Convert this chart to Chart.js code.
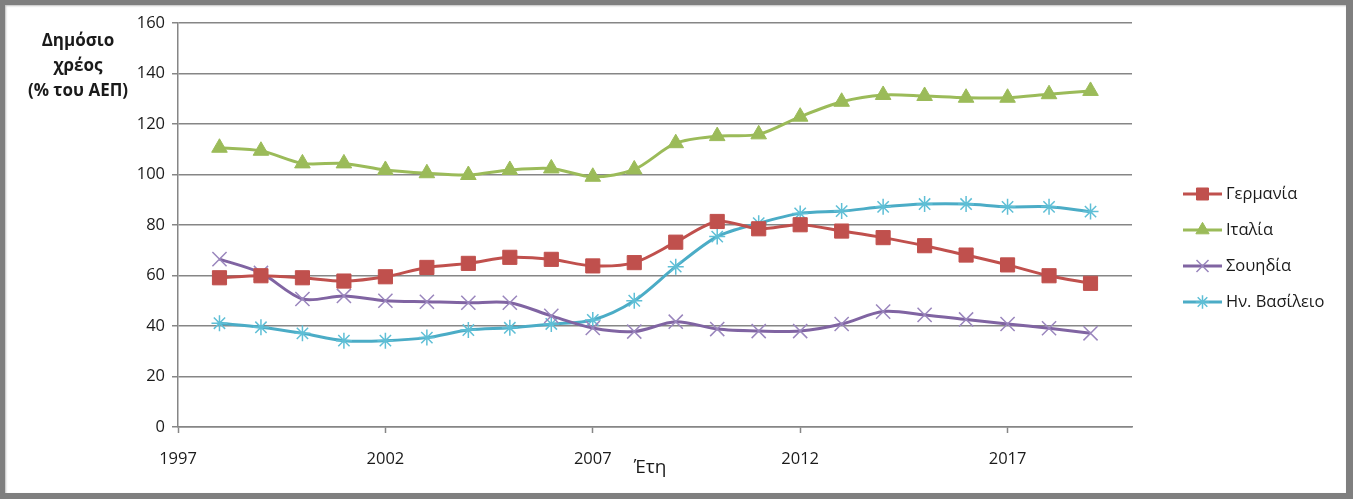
<!DOCTYPE html>
<html>
<head>
<meta charset="utf-8">
<script src="https://cdn.jsdelivr.net/npm/chart.js@4.4.1/dist/chart.umd.min.js"></script>
<style>
  html, body { margin: 0; padding: 0; background: #fff; }
  #wrap { position: absolute; left: 0; top: 0; width: 1353px; height: 499px; }
  #frame { position: absolute; left: 0; top: 0; width: 1353px; height: 499px; box-sizing: border-box;
           border-style: solid; border-color: #7f7f7f; border-width: 5px 7px 6px 5px;
           box-shadow: inset 1px 1px 2px rgba(0,0,0,0.25); pointer-events: none; }
  .lbl { position: absolute; font-family: "Open Sans", "DejaVu Sans", sans-serif; color: #1a1a1a; }
  #ytitle { left: 0; top: 27px; width: 156px; text-align: center; font-weight: bold; font-size: 17px; line-height: 25px; }
  #xtitle { left: 615px; top: 453px; width: 70px; text-align: center; font-size: 19px; }
</style>
</head>
<body>
<div id="wrap">
  <canvas id="c" width="1353" height="499"></canvas>
  <div class="lbl" id="ytitle">Δημόσιο<br>χρέος<br>(% του ΑΕΠ)</div>
  <div class="lbl" id="xtitle">Έτη</div>
  <div id="frame"></div>
</div>
<script>
  // δεδομένα
  const years = [1998, 1999, 2000, 2001, 2002, 2003, 2004, 2005, 2006, 2007, 2008,
                 2009, 2010, 2011, 2012, 2013, 2014, 2015, 2016, 2017, 2018, 2019];
  const germany = [59.1, 59.9, 59.1, 57.8, 59.5, 63.2, 64.8, 67.2, 66.4, 63.8, 65.1,
                   73.2, 81.4, 78.5, 80.1, 77.6, 75.0, 71.8, 68.1, 64.2, 59.9, 56.9];
  const italy = [110.6, 109.4, 104.4, 104.4, 101.8, 100.5, 99.8, 101.8, 102.4, 99.1, 102.0,
                 112.4, 115.2, 115.9, 122.9, 128.8, 131.5, 131.1, 130.4, 130.4, 131.8, 133.1];
  const sweden = [66.5, 61.0, 50.7, 51.9, 50.0, 49.6, 49.2, 49.2, 44.0, 39.2, 37.8,
                  41.7, 38.8, 38.0, 38.0, 40.8, 45.7, 44.4, 42.6, 40.8, 39.1, 37.1];
  const uk = [41.1, 39.5, 37.1, 34.2, 34.2, 35.4, 38.4, 39.3, 40.8, 42.4, 50.0,
              63.5, 75.4, 80.7, 84.6, 85.5, 87.2, 88.3, 88.3, 87.2, 87.2, 85.3];
  const seriesNames = ['Γερμανία', 'Ιταλία', 'Σουηδία', 'Ην. Βασίλειο'];
  const xTickLabels = [1997, 2002, 2007, 2012, 2017];
  const yTicks = [0, 20, 40, 60, 80, 100, 120, 140, 160];

  const FONT = '"Open Sans", "DejaVu Sans", sans-serif';
  const GRID = '#868686';

  function pts(vals){ return years.map((y, i) => ({ x: y, y: vals[i] })); }

  function ds(label, vals, color, mark, style){
    return Object.assign({
      label, data: pts(vals),
      borderColor: color, backgroundColor: color,
      borderWidth: 3, tension: 0.3,
      pointStyle: mark, pointBackgroundColor: color, pointBorderColor: color
    }, style);
  }

  const datasets = [
    ds(seriesNames[0], germany, '#C0504D', 'rect', { pointRadius: 10, pointBorderWidth: 1 }),
    ds(seriesNames[1], italy, '#9BBB59', 'triangle', { pointRadius: 9, pointBorderWidth: 1 }),
    ds(seriesNames[2], sweden, '#8064A2', 'crossRot', { pointRadius: 10, pointBorderWidth: 1.5, pointBorderColor: '#9a86bd' }),
    ds(seriesNames[3], uk, '#4BACC6', 'star', { pointRadius: 8, pointBorderWidth: 1.5, pointBorderColor: '#5fbfd6' })
  ];

  // υπόμνημα σαν το Excel: γραμμή + σύμβολο
  const excelLegend = {
    id: 'excelLegend',
    afterDraw(chart){
      const ctx = chart.ctx;
      const x0 = 1183, x1 = 1222, top = 194, gap = 36;
      chart.data.datasets.forEach((d, i) => {
        const y = top + i * gap;
        ctx.save();
        ctx.strokeStyle = d.borderColor;
        ctx.lineWidth = 3;
        ctx.beginPath(); ctx.moveTo(x0, y); ctx.lineTo(x1, y); ctx.stroke();
        ctx.fillStyle = d.pointBackgroundColor;
        ctx.strokeStyle = d.pointBorderColor;
        ctx.lineWidth = d.pointBorderWidth;
        Chart.helpers.drawPoint(ctx, { pointStyle: d.pointStyle, radius: d.pointRadius * 0.85, rotation: 0, borderWidth: d.pointBorderWidth }, (x0 + x1) / 2, y);
        ctx.fillStyle = '#1a1a1a';
        ctx.font = '16.5px ' + FONT;
        ctx.textBaseline = 'middle';
        ctx.fillText(d.label, x1 + 4, y);
        ctx.restore();
      });
    }
  };

  new Chart(document.getElementById('c'), {
    type: 'line',
    data: { datasets },
    plugins: [excelLegend],
    options: {
      responsive: false,
      animation: false,
      layout: { padding: { left: 0, right: 221, top: 23, bottom: 0 } },
      plugins: { legend: { display: false }, tooltip: { enabled: false } },
      scales: {
        x: {
          type: 'linear', min: 1997, max: 2020,
          afterBuildTicks: s => { s.ticks = xTickLabels.map(v => ({ value: v })); },
          afterFit: s => { s.height = 72; },
          ticks: { font: { family: FONT, size: 16.5 }, color: '#1a1a1a', padding: 16, maxRotation: 0, callback: v => String(v) },
          grid: { drawOnChartArea: false, drawTicks: true, tickLength: 6, tickColor: GRID, tickWidth: 1.5 },
          border: { color: GRID, width: 1.5 }
        },
        y: {
          min: 0, max: 160,
          afterBuildTicks: s => { s.ticks = yTicks.map(v => ({ value: v })); },
          afterFit: s => { s.width = 178; },
          ticks: { font: { family: FONT, size: 16.5 }, color: '#1a1a1a', padding: 7 },
          grid: { color: GRID, lineWidth: 1.5, tickLength: 6 },
          border: { color: GRID, width: 1.5 }
        }
      }
    }
  });
</script>
</body>
</html>
